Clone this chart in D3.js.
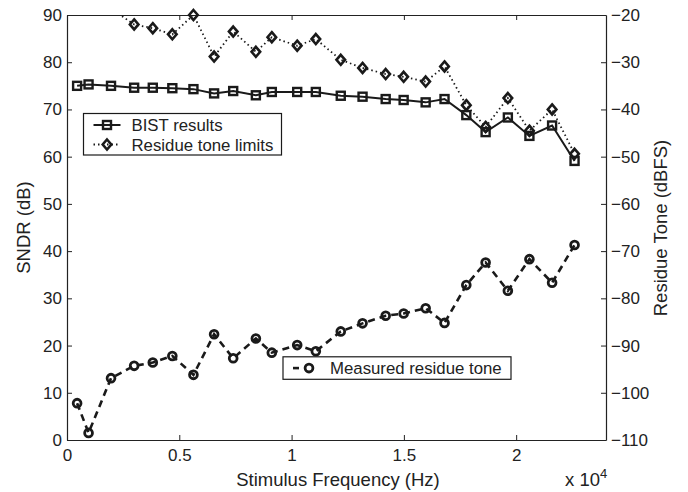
<!DOCTYPE html>
<html>
<head>
<meta charset="utf-8">
<script src="https://cdn.jsdelivr.net/npm/d3@7"></script>
<style>
  body { margin: 0; background: #fff; }
  text { font-family: "Liberation Sans", Arial, sans-serif; fill: #222; }
  .axis path, .axis line { stroke: #222; }
  .axis text { font-size: 17px; font-family: "Liberation Sans", Arial, sans-serif; fill: #222; }
  .axisLabel { font-size: 18.5px; }
</style>
</head>
<body>
<div id="graph"></div>
<script>
// stimulus frequency (Hz)
var freqs = [450, 960, 1960, 2990, 3820, 4690, 5630, 6550, 7400, 8410, 9120, 10250, 11080,
             12190, 13160, 14190, 14990, 15970, 16810, 17780, 18640, 19630, 20590, 21600, 22600];

// SNDR (dB), left axis
var bist = [75.0, 75.3, 75.0, 74.6, 74.6, 74.5, 74.3, 73.4, 73.9, 73.0, 73.7, 73.7, 73.7,
            72.9, 72.7, 72.2, 72.0, 71.5, 72.2, 68.8, 65.2, 68.3, 64.4, 66.6, 59.1];

// residue tone (dBFS), right axis
var limits = [-16.0, -17.0, -18.7, -22.0, -22.8, -24.1, -20.0, -28.8, -23.5, -27.8, -24.7, -26.5, -25.1,
              -29.5, -31.2, -32.5, -33.1, -34.1, -30.9, -39.1, -43.7, -37.6, -44.5, -40.0, -49.4];

var measured = [-102.2, -108.5, -96.9, -94.3, -93.6, -92.2, -96.2, -87.6, -92.7, -88.5, -91.5, -89.9, -91.2,
                -87.0, -85.3, -83.7, -83.2, -82.1, -85.2, -77.2, -72.4, -78.4, -71.7, -76.7, -68.7];

var xTicks = [0, 5000, 10000, 15000, 20000];
var leftTicks = [0, 10, 20, 30, 40, 50, 60, 70, 80, 90];
var rightTicks = [-110, -100, -90, -80, -70, -60, -50, -40, -30, -20];

var margin = { top: 15, right: 82, bottom: 52, left: 67 };
var width  = 688 - margin.left - margin.right;
var height = 492 - margin.top - margin.bottom;

var xScale = d3.scaleLinear().domain([0, 24000]).range([0, width]);
var yLeft  = d3.scaleLinear().domain([0, 90]).range([height, 0]);
var yRight = d3.scaleLinear().domain([-110, -20]).range([height, 0]);

var root = d3.select('div#graph').append('svg')
    .attr('width', 688).attr('height', 492);

root.append('defs').append('clipPath').attr('id', 'plotClip')
    .append('rect').attr('x', 0).attr('y', 0).attr('width', width).attr('height', height);

var svg = root.append('g')
    .attr('transform', 'translate(' + margin.left + ',' + margin.top + ')');

// axes (ticks point inward like MATLAB)
var fmtX = function (d) { return d === 0 ? '0' : String(d / 10000); };
var fmtY = function (d) { return d < 0 ? '\u2212' + Math.abs(d) : String(d); };

svg.append('g').attr('class', 'axis')
   .attr('transform', 'translate(0,' + height + ')')
   .call(d3.axisBottom(xScale).tickValues(xTicks).tickFormat(fmtX).tickSizeInner(-5).tickSizeOuter(0).tickPadding(9));

svg.append('g').attr('class', 'axis')
   .call(d3.axisTop(xScale).tickValues(xTicks).tickFormat('').tickSizeInner(-5).tickSizeOuter(0));

svg.append('g').attr('class', 'axis')
   .call(d3.axisLeft(yLeft).tickValues(leftTicks).tickFormat(fmtY).tickSizeInner(-5).tickSizeOuter(0).tickPadding(5));

svg.append('g').attr('class', 'axis')
   .attr('transform', 'translate(' + width + ',0)')
   .call(d3.axisRight(yRight).tickValues(rightTicks).tickFormat(fmtY).tickSizeInner(-5).tickSizeOuter(0).tickPadding(5));

svg.selectAll('.axis .domain').attr('stroke-width', 1.2);

// data
var dataBist = freqs.map(function (f, i) { return { x: f, y: bist[i] }; });
var dataLim  = freqs.map(function (f, i) { return { x: f, y: limits[i] }; });
var dataMeas = freqs.map(function (f, i) { return { x: f, y: measured[i] }; });

var lineL = d3.line().x(function (d) { return xScale(d.x); }).y(function (d) { return yLeft(d.y); });
var lineR = d3.line().x(function (d) { return xScale(d.x); }).y(function (d) { return yRight(d.y); });

// lines are clipped to the axes box, markers inside the y range are not
var plot = svg.append('g').attr('clip-path', 'url(#plotClip)');
var marks = svg.append('g');

var ink = '#1a1a1a';

// residue tone limits (dotted, diamonds)
plot.append('path').datum(dataLim).attr('d', lineR)
    .attr('fill', 'none').attr('stroke', ink).attr('stroke-width', 1.8)
    .attr('stroke-dasharray', '1.5,3');

var diamond = function (sel) {
    sel.attr('d', 'M0,-5L4.3,0L0,5L-4.3,0Z')
       .attr('fill', 'none').attr('stroke', ink).attr('stroke-width', 2.6);
};
marks.selectAll('.dia').data(dataLim.filter(function (d) { return d.y <= -20; })).enter().append('path')
    .attr('transform', function (d) { return 'translate(' + xScale(d.x) + ',' + yRight(d.y) + ')'; })
    .call(diamond);

// BIST results (solid, squares)
plot.append('path').datum(dataBist).attr('d', lineL)
    .attr('fill', 'none').attr('stroke', ink).attr('stroke-width', 2);

var square = function (sel) {
    sel.attr('width', 8).attr('height', 8).attr('x', -4).attr('y', -4)
       .attr('fill', 'none').attr('stroke', ink).attr('stroke-width', 2.4);
};
marks.selectAll('.sq').data(dataBist).enter().append('rect')
    .attr('transform', function (d) { return 'translate(' + xScale(d.x) + ',' + yLeft(d.y) + ')'; })
    .call(square);

// measured residue tone (dashed, circles)
plot.append('path').datum(dataMeas).attr('d', lineR)
    .attr('fill', 'none').attr('stroke', ink).attr('stroke-width', 2.6)
    .attr('stroke-dasharray', '7,5');

var circle = function (sel) {
    sel.attr('r', 3.9).attr('fill', 'none').attr('stroke', ink).attr('stroke-width', 2.8);
};
marks.selectAll('.ci').data(dataMeas).enter().append('circle')
    .attr('cx', function (d) { return xScale(d.x); })
    .attr('cy', function (d) { return yRight(d.y); })
    .call(circle);

// axis labels
svg.append('text').attr('class', 'axisLabel')
   .attr('text-anchor', 'middle')
   .attr('x', 338 - margin.left).attr('y', height + 46)
   .text('Stimulus Frequency (Hz)');

var expo = svg.append('text').attr('class', 'axisLabel')
   .attr('x', 565 - margin.left).attr('y', height + 46);
expo.append('tspan').text('x 10');
expo.append('tspan').attr('dy', -8).attr('font-size', 13).text('4');

svg.append('text').attr('class', 'axisLabel')
   .attr('text-anchor', 'middle')
   .attr('transform', 'rotate(-90)')
   .attr('x', -(227.5 - margin.top)).attr('y', 29.5 - margin.left)
   .text('SNDR (dB)');

svg.append('text').attr('class', 'axisLabel')
   .attr('text-anchor', 'middle')
   .attr('transform', 'rotate(-90)')
   .attr('x', -(228 - margin.top)).attr('y', 666.5 - margin.left)
   .text('Residue Tone (dBFS)');

// legend 1
var leg1 = svg.append('g').attr('transform', 'translate(' + (83.5 - margin.left) + ',' + (113.5 - margin.top) + ')');
leg1.append('rect').attr('width', 198).attr('height', 41.5)
    .attr('fill', '#fff').attr('stroke', ink).attr('stroke-width', 1.2);
leg1.append('line').attr('x1', 10).attr('x2', 37).attr('y1', 11.5).attr('y2', 11.5)
    .attr('stroke', ink).attr('stroke-width', 2);
leg1.append('rect').attr('transform', 'translate(23.5,11.5)').call(square);
leg1.append('text').attr('x', 48).attr('y', 17.5).attr('font-size', 16.8).text('BIST results');
leg1.append('line').attr('x1', 10).attr('x2', 37).attr('y1', 31).attr('y2', 31)
    .attr('stroke', ink).attr('stroke-width', 1.8).attr('stroke-dasharray', '1.5,3');
leg1.append('path').attr('transform', 'translate(23.5,31)').call(diamond);
leg1.append('text').attr('x', 48).attr('y', 37).attr('font-size', 16.8).text('Residue tone limits');

// legend 2
var leg2 = svg.append('g').attr('transform', 'translate(' + (283 - margin.left) + ',' + (356.8 - margin.top) + ')');
leg2.append('rect').attr('width', 228).attr('height', 22.5)
    .attr('fill', '#fff').attr('stroke', ink).attr('stroke-width', 1.2);
leg2.append('line').attr('x1', 10).attr('x2', 30).attr('y1', 11.3).attr('y2', 11.3)
    .attr('stroke', ink).attr('stroke-width', 2.6).attr('stroke-dasharray', '6,14');
leg2.append('circle').attr('cx', 26).attr('cy', 11.3).call(circle);
leg2.append('text').attr('x', 47).attr('y', 17.3).attr('font-size', 16.8).text('Measured residue tone');
</script>
</body>
</html>
